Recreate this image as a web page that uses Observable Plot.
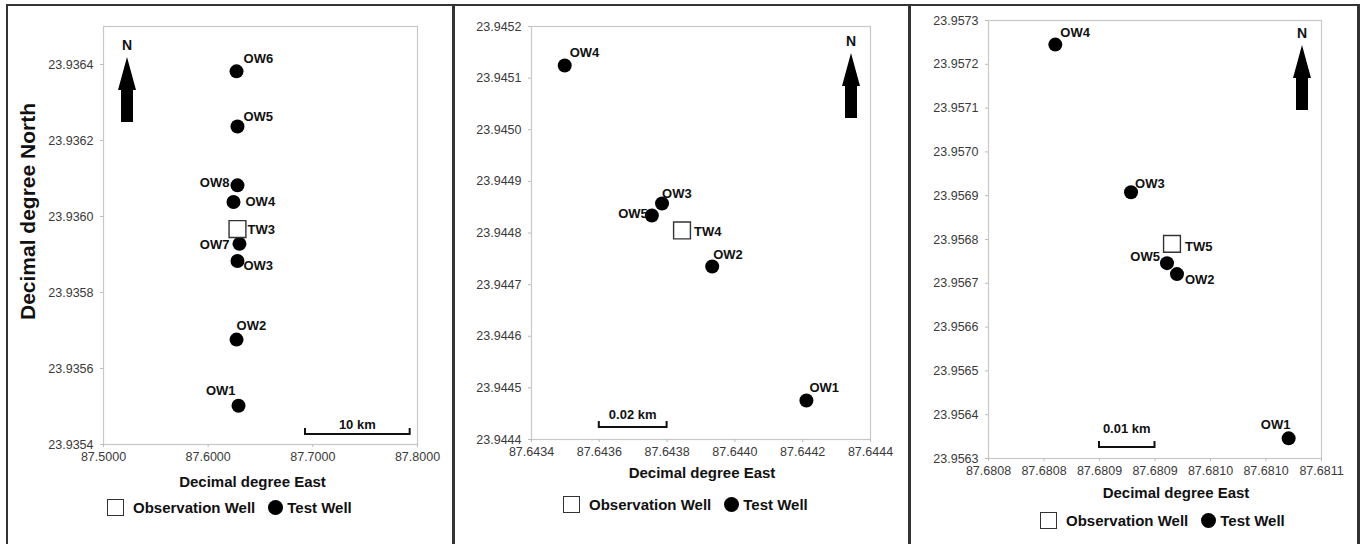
<!DOCTYPE html>
<html>
<head>
<meta charset="utf-8">
<script src="https://cdn.jsdelivr.net/npm/d3@7"></script>
<script src="https://cdn.jsdelivr.net/npm/@observablehq/plot@0.6"></script>
<style>
  body { margin: 0; background: #fff; font-family: "Liberation Sans", Arial, sans-serif; }
  #root { position: relative; width: 1363px; height: 544px; overflow: hidden; background: #fff; }
  .line { position: absolute; background: #333; }
  .panel { position: absolute; }
  .legend { position: absolute; display: flex; align-items: center; height: 18px;
            font-weight: bold; font-size: 15px; color: #111; white-space: nowrap; }
  .sq { width: 17px; height: 17px; border: 1.5px solid #333; box-sizing: border-box; background: #fff; }
  .dl { width: 15px; height: 15px; border-radius: 50%; background: #000; }
</style>
</head>
<body>
<div id="root"></div>
<script>
// ---------------- DATA ----------------
// Panel 1 (TW3 site)
const p1Names = ["OW6", "OW5", "OW8", "OW4", "TW3", "OW7", "OW3", "OW2", "OW1"];
const p1Lon   = [87.6271, 87.6280, 87.6280, 87.6242, 87.6280, 87.6299, 87.6280, 87.6271, 87.6290];
const p1Lat   = [23.936382, 23.936237, 23.936082, 23.936038, 23.935967, 23.935928, 23.935883, 23.935676, 23.935502];
const p1Type  = ["Test", "Test", "Test", "Test", "Observation", "Test", "Test", "Test", "Test"];
const p1XDomain = [87.5, 87.8];
const p1YDomain = [23.9354, 23.9365];
const p1XTicks = [87.5, 87.6, 87.7, 87.8];
const p1XTickLabels = ["87.5000", "87.6000", "87.7000", "87.8000"];
const p1YTicks = [23.9354, 23.9356, 23.9358, 23.9360, 23.9362, 23.9364];
const p1YTickLabels = ["23.9354", "23.9356", "23.9358", "23.9360", "23.9362", "23.9364"];
const p1ScaleLon = [87.693, 87.793];
const p1ScaleLat = 23.935426;
const p1ScaleLabel = "10 km";

// Panel 2 (TW4 site)
const p2Names = ["OW4", "OW3", "OW5", "TW4", "OW2", "OW1"];
const p2Lon   = [87.643498, 87.643785, 87.643755, 87.643844, 87.643933, 87.644211];
const p2Lat   = [23.9451245, 23.944857, 23.944834, 23.944805, 23.944735, 23.9444755];
const p2Type  = ["Test", "Test", "Test", "Observation", "Test", "Test"];
const p2XDomain = [87.6434, 87.6444];
const p2YDomain = [23.9444, 23.9452];
const p2XTicks = [87.6434, 87.6436, 87.6438, 87.6440, 87.6442, 87.6444];
const p2XTickLabels = ["87.6434", "87.6436", "87.6438", "87.6440", "87.6442", "87.6444"];
const p2YTicks = [23.9444, 23.9445, 23.9446, 23.9447, 23.9448, 23.9449, 23.9450, 23.9451, 23.9452];
const p2YTickLabels = ["23.9444", "23.9445", "23.9446", "23.9447", "23.9448", "23.9449", "23.9450", "23.9451", "23.9452"];
const p2ScaleLon = [87.6436, 87.6438];
const p2ScaleLat = 23.9444232;
const p2ScaleLabel = "0.02 km";

// Panel 3 (TW5 site)
const p3Names = ["OW4", "OW3", "TW5", "OW5", "OW2", "OW1"];
const p3Lon   = [87.6808102, 87.6808784, 87.6809153, 87.6809108, 87.6809198, 87.6810204];
const p3Lat   = [23.957245, 23.956908, 23.956790, 23.956746, 23.956721, 23.956346];
const p3Type  = ["Test", "Test", "Observation", "Test", "Test", "Test"];
const p3XDomain = [87.68075, 87.68105];
const p3YDomain = [23.9563, 23.9573];
const p3XTicks = [87.68075, 87.68080, 87.68085, 87.68090, 87.68095, 87.68100, 87.68105];
const p3XTickLabels = ["87.6808", "87.6808", "87.6809", "87.6809", "87.6810", "87.6810", "87.6811"];
const p3YTicks = [23.9563, 23.9564, 23.9565, 23.9566, 23.9567, 23.9568, 23.9569, 23.9570, 23.9571, 23.9572, 23.9573];
const p3YTickLabels = ["23.9563", "23.9564", "23.9565", "23.9566", "23.9567", "23.9568", "23.9569", "23.9570", "23.9571", "23.9572", "23.9573"];
const p3ScaleLon = [87.68085, 87.68090];
const p3ScaleLat = 23.956325;
const p3ScaleLabel = "0.01 km";

const xTitle = "Decimal degree East";
const yTitle = "Decimal degree North";
const legendLabels = ["Observation Well", "Test Well"];

// ---------------- LAYOUT (positions / styles only) ----------------
const labelPlacement = [
  { OW6: ["start", 7, -13], OW5: ["start", 6, -10], OW8: ["end", -8, -3], OW4: ["start", 12, 0],
    TW3: ["start", 10, 1], OW7: ["end", -10, 1], OW3: ["start", 6, 5], OW2: ["start", 0, -14], OW1: ["end", -3, -15] },
  { OW4: ["start", 5, -13], OW3: ["start", 0, -10], OW5: ["end", -4, -2], TW4: ["start", 12, 1],
    OW2: ["start", 1, -12], OW1: ["start", 3, -13] },
  { OW4: ["start", 5, -12], OW3: ["start", 4, -8], TW5: ["start", 13, 3], OW5: ["end", -7, -6],
    OW2: ["start", 8, 6], OW1: ["middle", -13, -14] }
];

const layout = [
  { left: 8, top: 6, width: 444, mL: 95, mR: 35, mT: 20, frameBottom: 444, mB: 52,
    arrow: ["left", 24, 31], scaleTextDy: -10, xTitleDx: -8, xTitleDy: 42,
    yTitle: true, legend: { left: 107, cy: 507 } },
  { left: 455, top: 6, width: 452, mL: 76, mR: 37, mT: 20, frameBottom: 439, mB: 52,
    arrow: ["right", -19, 27], scaleTextDy: -13, xTitleDx: 1, xTitleDy: 38,
    yTitle: false, legend: { left: 563, cy: 504 } },
  { left: 911, top: 6, width: 445, mL: 77, mR: 35, mT: 14, frameBottom: 458, mB: 52,
    arrow: ["right", -19, 25], scaleTextDy: -19, xTitleDx: 21, xTitleDy: 39,
    yTitle: false, legend: { left: 1040, cy: 520 } }
];

const panels = [
  { names: p1Names, lon: p1Lon, lat: p1Lat, type: p1Type, xDomain: p1XDomain, yDomain: p1YDomain,
    xTicks: p1XTicks, xTickLabels: p1XTickLabels, yTicks: p1YTicks, yTickLabels: p1YTickLabels,
    scaleLon: p1ScaleLon, scaleLat: p1ScaleLat, scaleLabel: p1ScaleLabel },
  { names: p2Names, lon: p2Lon, lat: p2Lat, type: p2Type, xDomain: p2XDomain, yDomain: p2YDomain,
    xTicks: p2XTicks, xTickLabels: p2XTickLabels, yTicks: p2YTicks, yTickLabels: p2YTickLabels,
    scaleLon: p2ScaleLon, scaleLat: p2ScaleLat, scaleLabel: p2ScaleLabel },
  { names: p3Names, lon: p3Lon, lat: p3Lat, type: p3Type, xDomain: p3XDomain, yDomain: p3YDomain,
    xTicks: p3XTicks, xTickLabels: p3XTickLabels, yTicks: p3YTicks, yTickLabels: p3YTickLabels,
    scaleLon: p3ScaleLon, scaleLat: p3ScaleLat, scaleLabel: p3ScaleLabel }
];

// ---------------- HELPERS ----------------
function northArrow(side, offX, offY) {
  return (index, scales, values, dims) => {
    const cx = side === "left" ? dims.marginLeft + offX : dims.width - dims.marginRight + offX;
    const ty = dims.marginTop + offY;
    const g = d3.create("svg:g").attr("transform", `translate(${cx},${ty})`);
    g.append("path").attr("d", "M0,0L9,33L6,33L6,65L-6,65L-6,33L-9,33Z").attr("fill", "#000");
    g.append("text").attr("y", -12).attr("dy", "0.35em").attr("text-anchor", "middle")
      .attr("font-weight", "bold").attr("font-size", 14).attr("fill", "#111").text("N");
    return g.node();
  };
}

function scaleBar(p, textDy) {
  return (index, scales) => {
    const X1 = scales.x(p.scaleLon[0]), X2 = scales.x(p.scaleLon[1]), Y = scales.y(p.scaleLat);
    const g = d3.create("svg:g");
    g.append("path").attr("d", `M${X1},${Y - 6}V${Y}H${X2}V${Y - 6}`)
      .attr("fill", "none").attr("stroke", "#111").attr("stroke-width", 2);
    g.append("text").attr("x", (X1 + X2) / 2).attr("y", Y + textDy).attr("dy", "0.35em")
      .attr("text-anchor", "middle").attr("font-weight", "bold").attr("font-size", 13)
      .attr("fill", "#111").text(p.scaleLabel);
    return g.node();
  };
}

// ---------------- BUILD ----------------
const root = document.getElementById("root");
function addLine(l, t, w, h) {
  const d = document.createElement("div");
  d.className = "line";
  Object.assign(d.style, { left: l + "px", top: t + "px", width: w + "px", height: h + "px" });
  root.appendChild(d);
}

panels.forEach((p, k) => {
  const L = layout[k];
  const wells = p.names.map((n, i) => ({ name: n, lon: p.lon[i], lat: p.lat[i], type: p.type[i] }));
  const tests = wells.filter(d => d.type === "Test");
  const obs = wells.filter(d => d.type === "Observation");
  const xFmt = new Map(p.xTicks.map((t, i) => [t, p.xTickLabels[i]]));
  const yFmt = new Map(p.yTicks.map((t, i) => [t, p.yTickLabels[i]]));

  const labelMarks = wells.map(w => {
    const [anchor, dx, dy] = labelPlacement[k][w.name];
    return Plot.text([w], { x: "lon", y: "lat", text: "name", textAnchor: anchor, dx, dy,
      fontWeight: "bold", fontSize: 13, fill: "#111" });
  });

  const marks = [
    Plot.frame({ stroke: "#c8c8c8", strokeWidth: 1.2 }),
    Plot.axisX({ ticks: p.xTicks, tickFormat: d => xFmt.get(d), tickSize: 3, tickPadding: 5,
      fill: "#3a3a3a", stroke: "#bbb", fontSize: 12.5, label: null }),
    Plot.axisY({ ticks: p.yTicks, tickFormat: d => yFmt.get(d), tickSize: 3, tickPadding: 7,
      fill: "#3a3a3a", stroke: "#bbb", fontSize: 12.5, label: null }),
    Plot.text([xTitle], { frameAnchor: "bottom", dx: L.xTitleDx, dy: L.xTitleDy,
      fontWeight: "bold", fontSize: 15, fill: "#111" }),
    Plot.dot(tests, { x: "lon", y: "lat", r: 7, fill: "#000" }),
    Plot.dot(obs, { x: "lon", y: "lat", r: 9.5, symbol: "square", fill: "#fff", stroke: "#333", strokeWidth: 1.4 }),
    ...labelMarks,
    scaleBar(p, L.scaleTextDy),
    northArrow(...L.arrow)
  ];
  if (L.yTitle) {
    marks.push(Plot.text([yTitle], { frameAnchor: "left", rotate: -90, textAnchor: "middle",
      dx: -75, dy: -24, fontWeight: "bold", fontSize: 21, fill: "#111" }));
  }

  const chart = Plot.plot({
    width: L.width,
    height: L.frameBottom - L.top + L.mB,
    marginLeft: L.mL, marginRight: L.mR, marginTop: L.mT, marginBottom: L.mB,
    x: { domain: p.xDomain },
    y: { domain: p.yDomain },
    style: { fontFamily: "'Liberation Sans', Arial, sans-serif", fontSize: "12.5px", background: "transparent", overflow: "visible" },
    marks
  });
  const wrap = document.createElement("div");
  wrap.className = "panel";
  wrap.style.left = L.left + "px";
  wrap.style.top = L.top + "px";
  wrap.appendChild(chart);
  root.appendChild(wrap);

  const lg = document.createElement("div");
  lg.className = "legend";
  lg.style.left = L.legend.left + "px";
  lg.style.top = (L.legend.cy - 9) + "px";
  lg.innerHTML = `<span class="sq"></span><span style="margin-left:9px">${legendLabels[0]}</span>` +
    `<span class="dl" style="margin-left:13px"></span><span style="margin-left:4px">${legendLabels[1]}</span>`;
  root.appendChild(lg);
});

// panel borders
addLine(6, 4, 1354, 2);
addLine(6, 4, 2, 545);
addLine(452, 4, 3, 545);
addLine(908, 4, 3, 545);
addLine(1357, 4, 3, 545);
</script>
</body>
</html>
